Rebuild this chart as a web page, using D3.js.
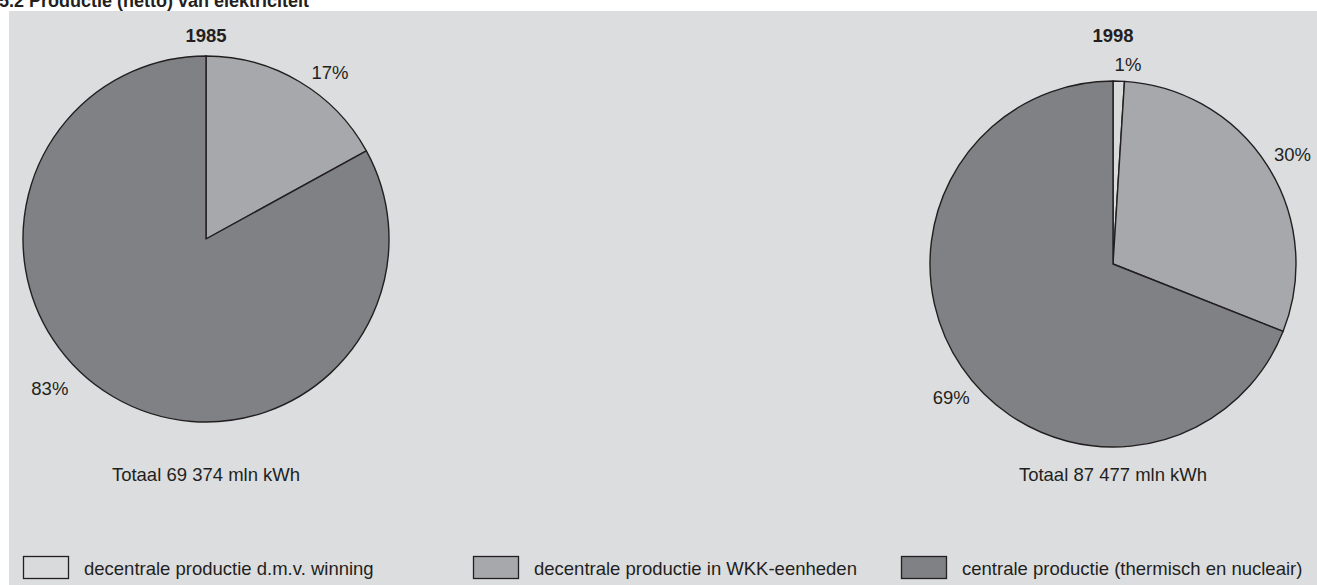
<!DOCTYPE html>
<html>
<head>
<meta charset="utf-8">
<script src="https://cdn.jsdelivr.net/npm/d3@7"></script>
<style>
  html, body { margin: 0; padding: 0; background: #ffffff; }
  svg { display: block; font-family: "Liberation Sans", Arial, sans-serif; }
</style>
</head>
<body>
<svg id="chart" width="1317" height="585"></svg>
<script>
// ---- data ----
const title = "5.2 Productie (netto) van elektriciteit";
const categories = [
  "decentrale productie d.m.v. winning",
  "decentrale productie in WKK-eenheden",
  "centrale productie (thermisch en nucleair)"
];
const years = ["1985", "1998"];
const values1985 = [0, 17, 83];
const values1998 = [1, 30, 69];
const totals = ["Totaal 69 374 mln kWh", "Totaal 87 477 mln kWh"];

// ---- styles / layout ----
const colors = ["#d9dadc", "#a7a8ab", "#808184"];
const strokeColor = "#231f20";
const textColor = "#231f20";
const panelColor = "#dcdddf";
const fontSize = 18.5;
const radius = 183;
const pieCenters = [[206, 239], [1113, 264]];
// label placement: angle (deg, clockwise from top) and distance from centre, per slice
const labelPlacement = [
  [null, [36.6, 208], [226.3, 216]],
  [[4.3, 200], [58.7, 210], [230.4, 210]]
];
const legendX = [23, 473, 901];

const svg = d3.select("#chart");

// panel
svg.append("rect").attr("x", 9).attr("y", 11).attr("width", 1308).attr("height", 600)
  .attr("fill", panelColor);

// title (cut off at top)
svg.append("text").attr("x", -1).attr("y", 7)
  .attr("font-size", 18).attr("font-weight", "bold").attr("fill", textColor)
  .text(title);

const pie = d3.pie().sort(null).value(d => d).startAngle(0).endAngle(2 * Math.PI);
const arc = d3.arc().innerRadius(0).outerRadius(radius);

[values1985, values1998].forEach((vals, i) => {
  const [cx, cy] = pieCenters[i];
  const g = svg.append("g").attr("transform", `translate(${cx},${cy})`);
  const arcs = pie(vals);
  g.selectAll("path").data(arcs).enter().append("path")
    .attr("d", arc)
    .attr("fill", (d, j) => colors[j])
    .attr("stroke", strokeColor)
    .attr("stroke-width", 1.4)
    .attr("stroke-linejoin", "round");

  // year (same height for both pies)
  svg.append("text").attr("x", cx).attr("y", 42)
    .attr("text-anchor", "middle").attr("font-size", fontSize).attr("font-weight", "bold")
    .attr("fill", textColor).text(years[i]);

  // percentage labels
  arcs.forEach((d, j) => {
    const p = labelPlacement[i][j];
    if (!p || d.value === 0) return;
    const a = p[0] * Math.PI / 180;
    const x = Math.sin(a) * p[1];
    const y = -Math.cos(a) * p[1];
    g.append("text").attr("x", x).attr("y", y + 6.5)
      .attr("text-anchor", "middle").attr("font-size", fontSize).attr("fill", textColor)
      .text(d.value + "%");
  });

  // total
  svg.append("text").attr("x", cx).attr("y", 481)
    .attr("text-anchor", "middle").attr("font-size", fontSize).attr("fill", textColor)
    .text(totals[i]);
});

// legend
const leg = svg.append("g");
categories.forEach((c, j) => {
  leg.append("rect").attr("x", legendX[j] + 0.5).attr("y", 556.5)
    .attr("width", 45).attr("height", 22)
    .attr("fill", colors[j]).attr("stroke", strokeColor).attr("stroke-width", 1.3);
  leg.append("text").attr("x", legendX[j] + 61).attr("y", 575)
    .attr("font-size", fontSize).attr("fill", textColor).text(c);
});
</script>
</body>
</html>
